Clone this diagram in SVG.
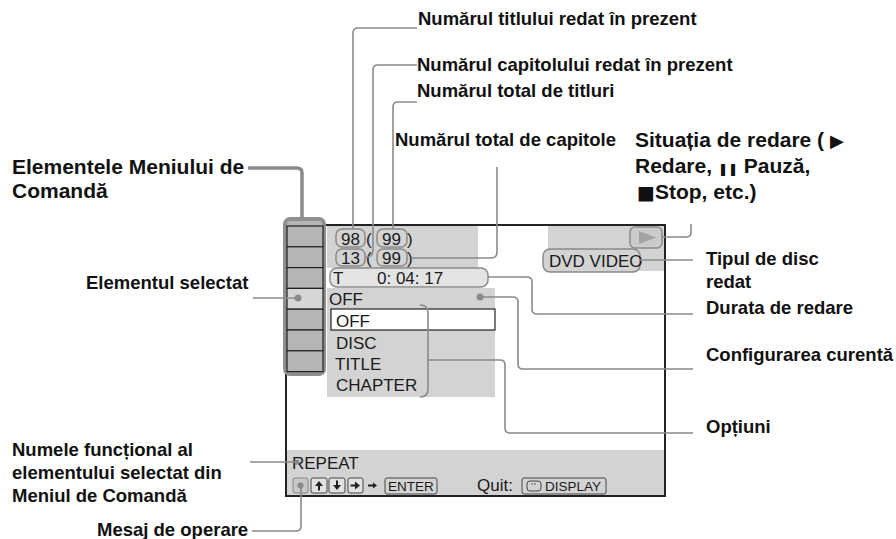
<svg xmlns="http://www.w3.org/2000/svg" width="896" height="539" viewBox="0 0 896 539">
<defs>
<style>
.lbl{font-family:"Liberation Sans",Arial,sans-serif;font-weight:bold;font-size:18.5px;fill:#111}
.big{font-size:21px}
.sym{font-family:"DejaVu Sans",sans-serif;font-weight:normal}
.scr{font-family:"Liberation Sans",Arial,sans-serif;font-size:17px;fill:#1a1a1a}
.small{font-size:13.5px}
.gray{fill:#d3d3d3}
.lead{fill:none;stroke:#8a8a8a;stroke-width:1.6}
.thick{fill:none;stroke:#8a8a8a;stroke-width:3.5}
.nbox{fill:#d3d3d3;stroke:#8a8a8a;stroke-width:1.5}
.cell{fill:#b5b5b5;stroke:#222;stroke-width:1.2}
.key{fill:#e2e2e2;stroke:#444;stroke-width:1}
.dot{fill:#8a8a8a}
</style>
</defs>
<rect width="896" height="539" fill="#ffffff"/>

<g id="screen">
<rect class="gray" x="327" y="225" width="151" height="43"/>
<rect class="gray" x="548" y="225" width="117" height="46"/>
<rect class="gray" x="327" y="288" width="168" height="109"/>
<rect class="gray" x="287" y="450" width="378" height="46"/>
<rect x="286" y="225" width="379" height="271" fill="none" stroke="#222" stroke-width="2"/>
</g>

<g id="menu-column">
<rect x="285" y="219" width="39" height="155" rx="5" fill="#b5b5b5" stroke="#8f8f8f" stroke-width="4"/>
<rect class="cell" x="287" y="226" width="36" height="20.8"/>
<rect class="cell" x="287" y="246.8" width="36" height="20.8"/>
<rect class="cell" x="287" y="267.6" width="36" height="20.8"/>
<rect class="cell" x="287" y="288.4" width="36" height="20.8" style="fill:#d6d6d6"/>
<rect class="cell" x="287" y="309.2" width="36" height="20.8"/>
<rect class="cell" x="287" y="330" width="36" height="20.8"/>
<rect class="cell" x="287" y="350.8" width="36" height="20.8"/>
<circle class="dot" cx="298" cy="298" r="3.5"/>
</g>

<g id="numbers">
<rect class="nbox" x="336" y="229" width="29" height="18" rx="6"/>
<rect class="nbox" x="377" y="229" width="30" height="18" rx="6"/>
<rect class="nbox" x="336" y="249" width="29" height="17" rx="6"/>
<rect class="nbox" x="377" y="249" width="30" height="17" rx="6"/>
<text class="scr" x="341" y="245">98</text>
<text class="scr" x="366" y="245">(</text>
<text class="scr" x="382" y="245">99</text>
<text class="scr" x="407" y="245">)</text>
<text class="scr" x="341" y="264">13</text>
<text class="scr" x="366" y="264">(</text>
<text class="scr" x="382" y="264">99</text>
<text class="scr" x="407" y="264">)</text>
</g>

<g id="time">
<rect class="nbox" x="330" y="268" width="158" height="19" rx="7" style="fill:#e4e4e4"/>
<text class="scr" x="333" y="284">T</text>
<text class="scr" x="377" y="284">0: 04: 17</text>
</g>

<g id="status">
<rect class="nbox" x="630" y="227" width="32" height="21" rx="5" style="fill:#cbcbcb"/>
<polygon points="639,231 656,237.5 639,244" fill="#a3a3a3"/>
<rect class="nbox" x="543" y="249" width="97" height="23" rx="7"/>
<text class="scr" x="549" y="267">DVD VIDEO</text>
</g>

<g id="setting">
<text class="scr" x="329" y="305">OFF</text>
<circle class="dot" cx="480" cy="297" r="3.5"/>
</g>

<g id="options">
<rect x="331" y="309" width="164" height="21" fill="#ffffff" stroke="#222" stroke-width="1.2"/>
<text class="scr" x="336" y="327">OFF</text>
<text class="scr" x="336" y="349">DISC</text>
<text class="scr" x="335" y="370">TITLE</text>
<text class="scr" x="336" y="391">CHAPTER</text>
<path class="lead" d="M420,305 Q428,305 428,313 V389 Q428,397 420,397"/>
</g>

<g id="bottom-bar">
<text class="scr" x="292" y="469">REPEAT</text>
<rect x="293" y="478" width="15" height="15" rx="2" fill="#c8c8c8" stroke="#888" stroke-width="1"/>
<circle class="dot" cx="300.5" cy="485.5" r="3"/>
<rect class="key" x="311" y="478" width="16" height="15" rx="2"/>
<path d="M315,486 L319,481 L323,486 Z M318,486 h2 v4.5 h-2 Z" fill="#222"/>
<rect class="key" x="329" y="478" width="16" height="15" rx="2"/>
<path d="M333,485 L337,490 L341,485 Z M336,480.5 h2 v4.5 h-2 Z" fill="#222"/>
<rect class="key" x="348" y="478" width="15" height="15" rx="2"/>
<path d="M355,481.5 L360,485.5 L355,489.5 Z M350.5,484.5 h4.5 v2 h-4.5 Z" fill="#222"/>
<path d="M368,484.5 h5 v-2 l4,3 l-4,3 v-2 h-5 Z" fill="#222"/>
<rect x="385" y="478" width="52" height="16" rx="2" fill="none" stroke="#444" stroke-width="1"/>
<text class="scr small" x="411" y="491" text-anchor="middle">ENTER</text>
<text class="scr" x="477" y="491">Quit:</text>
<rect x="522" y="478" width="84" height="16" rx="2" fill="none" stroke="#444" stroke-width="1"/>
<rect x="527" y="481" width="14" height="10" rx="3" fill="none" stroke="#444" stroke-width="1"/>
<circle cx="532" cy="484" r="0.8" fill="#444"/>
<circle cx="535" cy="484" r="0.8" fill="#444"/>
<text class="scr small" x="545" y="491">DISPLAY</text>
</g>

<g id="connectors">
<path class="lead" d="M417,28 H358 Q353,28 353,33 V229"/>
<path class="lead" d="M417,65 H378 Q373,65 373,70 V250 Q373,257 366,257"/>
<path class="lead" d="M417,102 H398 Q393,102 393,107 V229"/>
<path class="lead" d="M497,167 V252 Q497,258 491,258 H411"/>
<path class="lead" d="M662,237 H686 Q691,237 691,232 V224"/>
<path class="lead" d="M640,260 H693"/>
<path class="lead" d="M488,277 H527 Q532,277 532,282 V309 Q532,314 537,314 H693"/>
<path class="lead" d="M482,297 H513 Q518,297 518,302 V364 Q518,369 523,369 H693"/>
<path class="lead" d="M428,360 H500 Q505,360 505,365 V428 Q505,433 510,433 H693"/>
<path class="thick" d="M248,168 H297 Q302,168 302,173 V217"/>
<path class="lead" d="M253,298 H298"/>
<path class="lead" d="M250,462 H297"/>
<circle class="dot" cx="297" cy="462" r="2.5"/>
<path class="lead" d="M252,531 H296 Q301,531 301,526 V486"/>
</g>

<g id="labels">
<text class="lbl" x="418" y="25">Numărul titlului redat în prezent</text>
<text class="lbl" x="417" y="71">Numărul capitolului redat în prezent</text>
<text class="lbl" x="417" y="97">Numărul total de titluri</text>
<text class="lbl" x="395" y="146">Numărul total de capitole</text>
<text class="lbl big" x="635" y="147">Situația de redare ( <tspan class="sym" font-size="18">▶</tspan></text>
<text class="lbl big" x="635" y="173">Redare, <tspan class="sym" font-size="12">❚❚</tspan> Pauză,</text>
<text class="lbl big" x="637" y="199"><tspan class="sym" font-size="19">■</tspan>Stop, etc.)</text>
<text class="lbl" x="706" y="265">Tipul de disc</text>
<text class="lbl" x="706" y="288">redat</text>
<text class="lbl" x="706" y="314">Durata de redare</text>
<text class="lbl" x="706" y="361">Configurarea curentă</text>
<text class="lbl" x="706" y="433">Opțiuni</text>
<text class="lbl big" x="12" y="174">Elementele Meniului de</text>
<text class="lbl big" x="12" y="198">Comandă</text>
<text class="lbl" x="86" y="289">Elementul selectat</text>
<text class="lbl" x="12" y="456">Numele funcțional al</text>
<text class="lbl" x="12" y="479">elementului selectat din</text>
<text class="lbl" x="12" y="502">Meniul de Comandă</text>
<text class="lbl" x="97" y="536">Mesaj de operare</text>
</g>
</svg>
